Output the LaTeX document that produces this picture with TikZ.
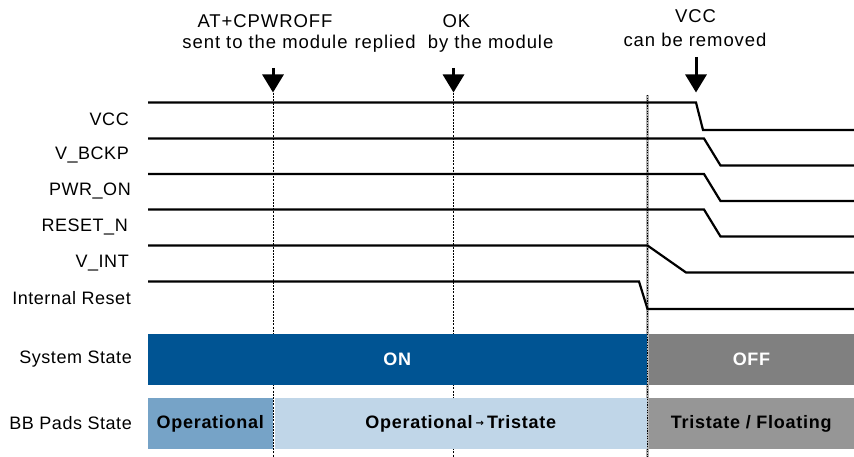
\documentclass[tikz,border=0pt]{standalone}
\usepackage{fontspec}
\setmainfont{Liberation Sans}[LetterSpace=3]
\newfontfamily\dvsans{DejaVu Sans}
\usetikzlibrary{arrows.meta}
\definecolor{sysblue}{RGB}{0,84,147}
\definecolor{offgray}{RGB}{128,128,128}
\definecolor{opblue}{RGB}{118,163,199}
\definecolor{lightblue}{RGB}{192,214,232}
\definecolor{floatgray}{RGB}{150,150,150}
\begin{document}
\begin{tikzpicture}[x=1pt,y=-1pt,
  txt/.style={font=\fontsize{18}{20}\selectfont, inner sep=0pt},
  lbl/.style={txt, anchor=east},
  toptxt/.style={font=\addfontfeatures{LetterSpace=5}\fontsize{18.5}{20}\selectfont, inner sep=0pt, anchor=base},
  sig/.style={line width=2.2pt, line join=miter},
  marker/.style={line width=0.9pt, dash pattern=on 2pt off 1.2pt},
  bigarrow/.style={line width=3pt, -{Triangle[width=21pt,length=18pt]}},
  bar/.style={inner sep=0pt, outer sep=0pt, minimum height=51pt, anchor=west,
    font=\bfseries\addfontfeatures{LetterSpace=4}\fontsize{18}{19}\selectfont}
]
\useasboundingbox (0,0) rectangle (854,457);

% vertical markers
\coordinate (m1t) at (273,93); \coordinate (m1b) at (273,457);
\coordinate (m2t) at (453.5,93); \coordinate (m2b) at (453.5,457);
\coordinate (m3t) at (647.5,95); \coordinate (m3b) at (647.5,457);
\draw[marker] (m1t) -- (m1b);
\draw[marker] (m2t) -- (m2b);
\draw[line width=2.4pt, gray!60] (m3t) -- (m3b);
\draw[line width=1.2pt, dash pattern=on 1.3pt off 1.3pt] (m3t) -- (m3b);

% top annotations
\node[toptxt] (t1a) at (265,27.7) {AT+CPWROFF};
\node[toptxt] (t1b) at (265,48.3) {sent to the module};
\node[toptxt] (t2a) at (456.5,27.7) {OK};
\node[toptxt] (t2b) at (454,48.3) {replied\ \ by the module};
\node[toptxt] (t3a) at (695.5,22.7) {VCC};
\node[toptxt] (t3b) at (695,46.7) {can be removed};

\coordinate (a1s) at (273,68); \coordinate (a1e) at (273,92.5);
\coordinate (a2s) at (453.5,68); \coordinate (a2e) at (453.5,92.5);
\coordinate (a3s) at (696,57); \coordinate (a3e) at (696,92.5);
\draw[bigarrow] (a1s) -- (a1e);
\draw[bigarrow] (a2s) -- (a2e);
\draw[bigarrow] (a3s) -- (a3e);

% signal labels
\node[lbl] (lvcc) at (129,119) {VCC};
\node[lbl] (lbck) at (129,155) {V\_BCKP};
\node[lbl] (lpwr) at (131,191) {PWR\_ON};
\node[lbl] (lrst) at (128,227) {RESET\_N};
\node[lbl] (lvint) at (129,263) {V\_INT};
\node[lbl] (lirst) at (131,298) {Internal Reset};

% signals
\draw[sig] (148,102.5) -- (696,102.5) -- (703,130) -- (854,130);
\draw[sig] (148,138.5) -- (704,138.5) -- (720.5,165.5) -- (854,165.5);
\draw[sig] (148,174) -- (704,174) -- (720.5,201) -- (854,201);
\draw[sig] (148,209.5) -- (704,209.5) -- (720.5,236.5) -- (854,236.5);
\draw[sig] (148,245.5) -- (647.5,245.5) -- (686,272.5) -- (854,272.5);
\draw[sig] (148,281.5) -- (639,281.5) -- (647.5,309) -- (854,309);

% state labels
\node[lbl] (lsys) at (132,359.5) {System State};
\node[lbl] (lbb) at (132,423.5) {BB Pads State};

% bars
\node[bar, fill=sysblue, text=white, minimum width=498.7pt] (on) at (148,359.5) {ON};
\node[bar, fill=offgray, text=white, minimum width=206pt] (off) at (648.5,359.5) {OFF};
\node[bar, fill=opblue, minimum width=124.5pt] (op) at (148,423.5) {Operational};
\node[bar, fill=lightblue, minimum width=372.5pt] (optri) at (274.5,423.5)
  {Operational\,\raisebox{2pt}{\dvsans\fontsize{10}{10}\selectfont →}\,Tristate};
\node[bar, fill=floatgray, minimum width=205.5pt] (tri) at (648.5,423.5) {Tristate / Floating};
\end{tikzpicture}
\end{document}
